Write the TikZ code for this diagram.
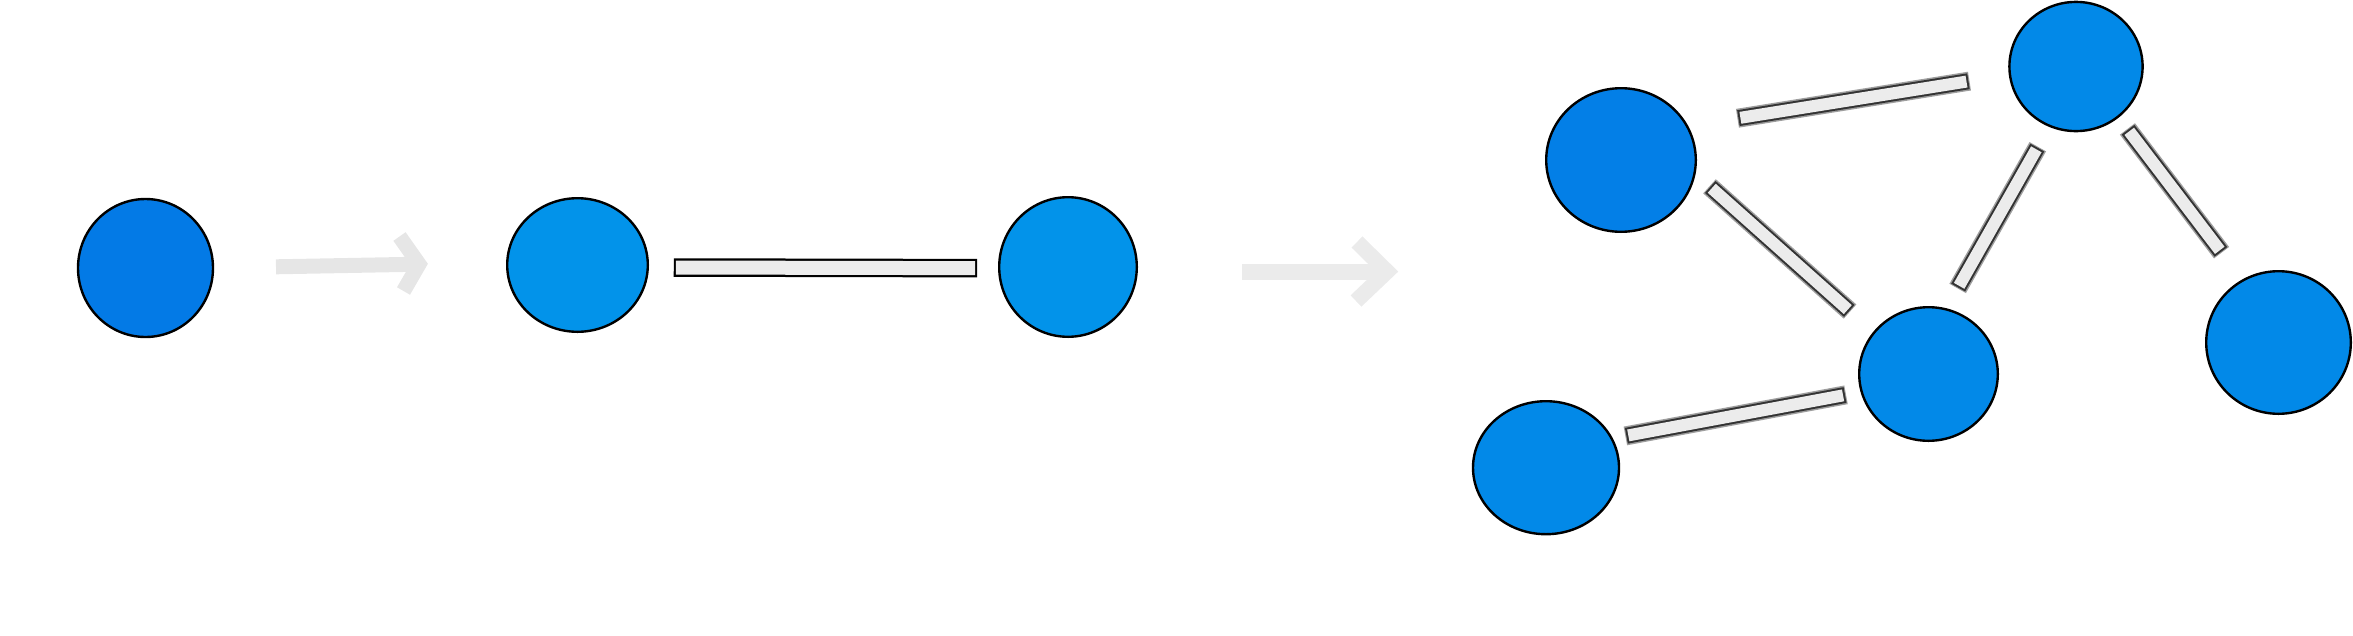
\documentclass[tikz,border=0pt]{standalone}
\usepackage{tikz}
\usetikzlibrary{shapes,arrows,positioning}

\definecolor{soloblue}{RGB}{3,122,230}
\definecolor{duoblue}{RGB}{2,147,234}
\definecolor{westblue}{RGB}{3,127,231}
\definecolor{netblue}{RGB}{2,137,232}
\definecolor{barfill}{RGB}{236,236,236}
\definecolor{gofill}{RGB}{230,230,230}
\definecolor{gofilltwo}{RGB}{235,235,235}

\begin{document}
\begin{tikzpicture}[x=1pt, y=-1pt]
    % Define styles
    \tikzstyle{atom} = [ellipse, draw=black, line width=2.4pt, inner sep=0pt, outer sep=0pt]
    \tikzstyle{go} = [line width=15pt, line cap=butt, line join=miter]
    \tikzset{
        bond/.style 2 args={preaction={draw=black, line width=18.5pt, shorten <=#1, shorten >=#2},
            draw=barfill, line width=14pt, shorten <=#1+2.2pt, shorten >=#2+2.2pt},
        softbond/.style 2 args={preaction={draw=black!38, line width=19pt, shorten <=#1-1pt, shorten >=#2-1pt},
            preaction={draw=black!80, line width=16pt, shorten <=#1, shorten >=#2},
            draw=barfill, line width=12pt, shorten <=#1+2pt, shorten >=#2+2pt}
    }
    \useasboundingbox (0,0) rectangle (2353,635);

    % Nodes
    \node [atom, fill=soloblue, minimum width=135pt, minimum height=138pt] (solo) at (145.5,268) {};
    \node [atom, fill=duoblue, minimum width=140.6pt, minimum height=133.6pt] (duoleft) at (577.5,265) {};
    \node [atom, fill=duoblue, minimum width=137.6pt, minimum height=139.6pt] (duoright) at (1068,267) {};
    \node [atom, fill=westblue, minimum width=149.6pt, minimum height=143.6pt] (netwest) at (1621,160) {};
    \node [atom, fill=netblue, minimum width=133.2pt, minimum height=129.2pt] (nettop) at (2076,66.5) {};
    \node [atom, fill=netblue, minimum width=138.6pt, minimum height=133.6pt] (netcentre) at (1928.5,374) {};
    \node [atom, fill=netblue, minimum width=144.6pt, minimum height=142.6pt] (neteast) at (2278.5,342.5) {};
    \node [atom, fill=netblue, minimum width=146pt, minimum height=133pt] (netsouth) at (1546,467.7) {};

    % Bonds
    \draw [bond={26pt}{22pt}] (duoleft.358) -- (duoright.181);
    \draw [softbond={52pt}{42pt}] (netwest.27) -- (nettop.187);
    \draw [softbond={21pt}{33pt}] (netwest.350) -- (netcentre.143);
    \draw [softbond={25pt}{25pt}] (netcentre.75) -- (nettop.246);
    \draw [softbond={16.5pt}{36pt}] (nettop.310) -- (neteast.120);
    \draw [softbond={15pt}{17pt}] (netsouth.24) -- (netcentre.195);

    % Arrows
    \coordinate (go1tail) at (276,266.8);
    \coordinate (go1bend) at (419,264.2);
    \coordinate (go1up) at (399.5,236.5);
    \coordinate (go1down) at (403.5,291);
    \draw [go, gofill] (go1tail) -- (go1bend);
    \draw [go, gofill] (go1up) -- (go1bend) -- (go1down);

    \coordinate (go2tail) at (1242,271.5);
    \coordinate (go2bend) at (1387,271.5);
    \coordinate (go2up) at (1357,242);
    \coordinate (go2down) at (1356,301);
    \draw [go, gofilltwo, line width=16pt] (go2tail) -- (go2bend);
    \draw [go, gofilltwo, line width=15.6pt] (go2up) -- (go2bend) -- (go2down);
\end{tikzpicture}
\end{document}
